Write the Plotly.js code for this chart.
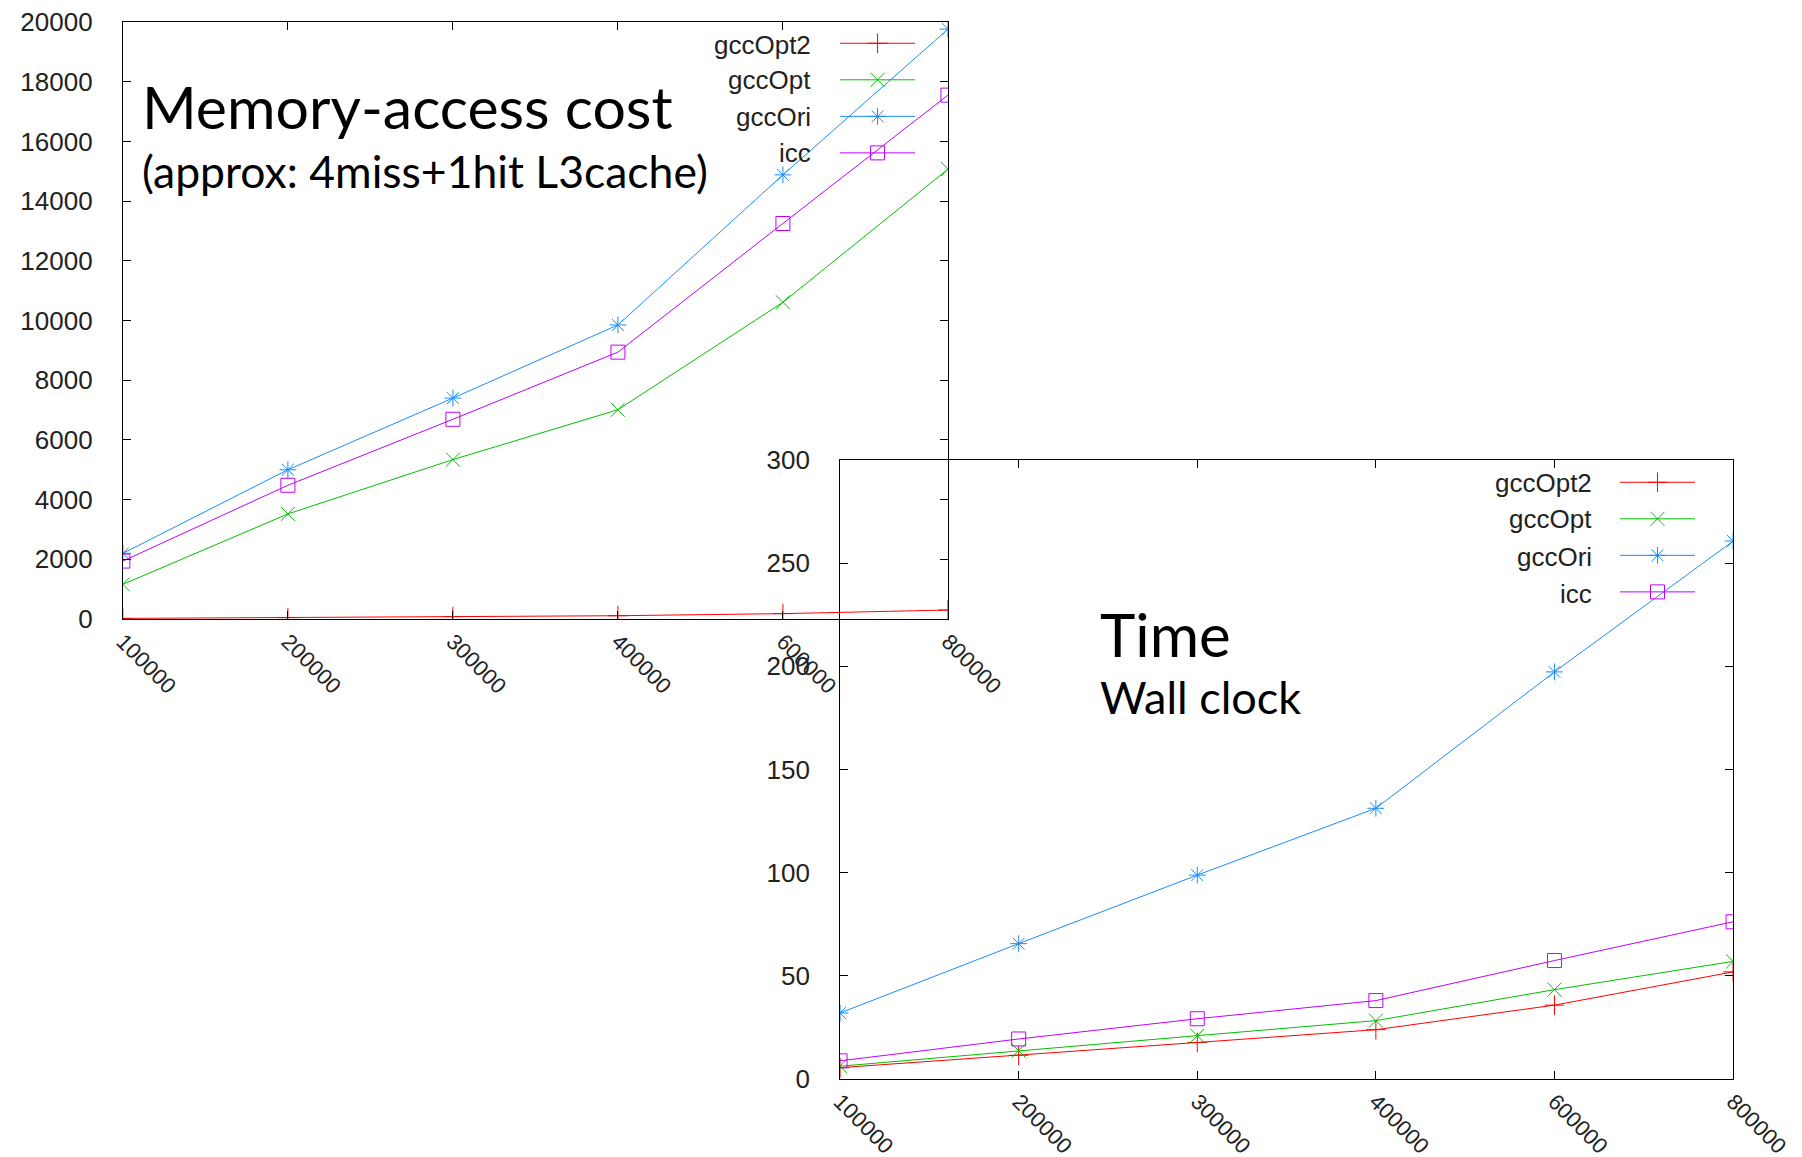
<!DOCTYPE html>
<html><head><meta charset="utf-8">
<script src="https://cdn.plot.ly/plotly-3.0.1.min.js"></script>
<style>html,body{margin:0;padding:0;background:#fff}</style>
</head><body><div id="chart" style="width:1802px;height:1157px"></div>
<script>
// ---- data ----
const sizes = ['100000','200000','300000','400000','600000','800000'];
const seriesNames = ['gccOpt2','gccOpt','gccOri','icc'];
// Memory-access cost
const memGccOpt2 = [20, 45, 80, 110, 180, 300];
const memGccOpt  = [1160, 3520, 5340, 7010, 10610, 15070];
const memGccOri  = [2200, 5000, 7400, 9850, 14880, 19760];
const memIcc     = [1940, 4480, 6690, 8940, 13250, 17550];
// Wall clock time
const timeGccOpt2 = [5.5, 11.5, 17.7, 23.9, 35.8, 51.9];
const timeGccOpt  = [6.2, 13.7, 21.0, 28.3, 43.3, 57.0];
const timeGccOri  = [32.0, 65.6, 98.8, 131.2, 197.3, 260.7];
const timeIcc     = [8.8, 19.4, 29.2, 38.0, 57.4, 76.2];
// tick labels
const memYTicks  = [0,2000,4000,6000,8000,10000,12000,14000,16000,18000,20000];
const timeYTicks = [0,50,100,150,200,250,300];

// ---- styles ----
const W = 1802, H = 1157;
const px = x => x / W;
const py = y => 1 - y / H;
const colors  = ['#ff0000', '#00c000', '#1a8cff', '#c000ff'];
const symbols = ['cross-thin-open', 'x-thin-open', 'asterisk-open', 'square-open'];
const tickFont = {family: 'Liberation Sans, Arial, sans-serif', size: 26, color: '#222'};

const memSeries = [memGccOpt2, memGccOpt, memGccOri, memIcc];
const timeSeries = [timeGccOpt2, timeGccOpt, timeGccOri, timeIcc];

const traces = [];
memSeries.forEach((ys, i) => traces.push({
  x: sizes, y: ys, name: seriesNames[i], type: 'scatter', mode: 'lines+markers',
  xaxis: 'x', yaxis: 'y', legend: 'legend',
  line: {color: colors[i], width: 1},
  marker: {symbol: symbols[i], size: 14, color: colors[i], line: {color: colors[i], width: 1}}
}));
timeSeries.forEach((ys, i) => traces.push({
  x: sizes, y: ys, name: seriesNames[i], type: 'scatter', mode: 'lines+markers',
  xaxis: 'x2', yaxis: 'y2', legend: 'legend2',
  line: {color: colors[i], width: 1},
  marker: {symbol: symbols[i], size: 14, color: colors[i], line: {color: colors[i], width: 1}}
}));

function xAxis(domain, anchor) {
  return {
    domain: domain, anchor: anchor, type: 'category', range: [0, sizes.length - 1],
    showline: true, mirror: 'ticks', linecolor: '#000', linewidth: 1,
    ticks: 'inside', ticklen: 8, tickcolor: '#000', showgrid: false, zeroline: false,
    tickangle: 45, tickfont: {family: 'Liberation Sans, Arial, sans-serif', size: 22, color: '#222'},
    ticklabelstandoff: 0
  };
}
function yAxis(domain, anchor, range, tv) {
  return {
    domain: domain, anchor: anchor, range: range, tickvals: tv, ticktext: tv.map(String),
    showline: true, mirror: 'ticks', linecolor: '#000', linewidth: 1,
    ticks: 'inside', ticklen: 8, tickcolor: '#000', showgrid: false, zeroline: false,
    tickfont: tickFont, ticklabelstandoff: 24
  };
}

const legendBase = {
  bgcolor: 'rgba(0,0,0,0)', borderwidth: 0, itemwidth: 75, tracegroupgap: 0,
  font: {family: 'Liberation Sans, Arial, sans-serif', size: 25.8, color: 'rgba(0,0,0,0)'},
  xanchor: 'left', yanchor: 'top', itemclick: false, traceorder: 'normal'
};

const annotations = [];
const legendLabelY1 = [45, 80, 117, 153];
const legendLabelY2 = [483, 519, 557, 594];
seriesNames.forEach((n, i) => {
  annotations.push({text: n, xref: 'paper', yref: 'paper', x: px(814), y: py(legendLabelY1[i]),
    xanchor: 'right', yanchor: 'middle', showarrow: false, font: tickFont});
  annotations.push({text: n, xref: 'paper', yref: 'paper', x: px(1596), y: py(legendLabelY2[i]),
    xanchor: 'right', yanchor: 'middle', showarrow: false, font: tickFont});
});
const titleFont = 'Lato, "Open Sans", sans-serif';
annotations.push({text: 'Memory-access cost', xref: 'paper', yref: 'paper', x: px(140), y: py(106),
  xanchor: 'left', yanchor: 'middle', showarrow: false, font: {family: titleFont, size: 59, color: '#000'}});
annotations.push({text: '(approx: 4miss+1hit L3cache)', xref: 'paper', yref: 'paper', x: px(140), y: py(170),
  xanchor: 'left', yanchor: 'middle', showarrow: false, font: {family: titleFont, size: 44.5, color: '#000'}});
annotations.push({text: 'Time', xref: 'paper', yref: 'paper', x: px(1099), y: py(634),
  xanchor: 'left', yanchor: 'middle', showarrow: false, font: {family: titleFont, size: 60, color: '#000'}});
annotations.push({text: 'Wall clock', xref: 'paper', yref: 'paper', x: px(1099), y: py(697),
  xanchor: 'left', yanchor: 'middle', showarrow: false, font: {family: titleFont, size: 45, color: '#000'}});

const layout = {
  width: W, height: H, margin: {l: 0, r: 0, t: 0, b: 0},
  paper_bgcolor: '#fff', plot_bgcolor: 'rgba(0,0,0,0)',
  showlegend: true,
  xaxis: xAxis([px(123), px(949)], 'y'),
  yaxis: yAxis([py(619), py(22)], 'x', [0, 20000], memYTicks),
  xaxis2: xAxis([px(841), px(1735)], 'y2'),
  yaxis2: yAxis([py(1079), py(460)], 'x2', [0, 300], timeYTicks),
  legend: Object.assign({}, legendBase, {x: px(836), y: py(20)}),
  legend2: Object.assign({}, legendBase, {x: px(1617), y: py(459)}),
  annotations: annotations
};

Plotly.newPlot('chart', traces, layout, {staticPlot: true});
</script></body></html>
